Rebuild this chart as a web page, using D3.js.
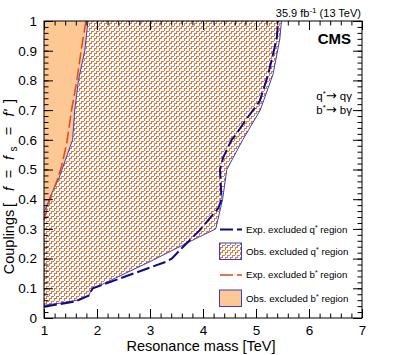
<!DOCTYPE html>
<html>
<head>
<meta charset="utf-8">
<script src="https://cdn.jsdelivr.net/npm/d3@7"></script>
<style>
  body { margin: 0; background: #fff; }
  text { font-family: "Liberation Sans", Arial, sans-serif; }
</style>
</head>
<body>
<div id="my_dataviz"></div>
<script>
// values
const xTicks = [1, 2, 3, 4, 5, 6, 7];
const yTicks = [0, 0.1, 0.2, 0.3, 0.4, 0.5, 0.6, 0.7, 0.8, 0.9, 1];

// observed q* boundary
const obsQMass = [1.0, 1.3, 1.62, 1.84, 1.9, 2.0, 3.0, 3.94, 4.24, 4.37, 4.45, 4.75, 5.08, 5.32, 5.45, 5.48];
const obsQCoup = [0.043, 0.05, 0.06, 0.075, 0.097, 0.105, 0.19, 0.274, 0.30, 0.40, 0.50, 0.60, 0.70, 0.82, 0.94, 1.0];

// expected q*
const expQMass = [1.0, 1.6, 1.84, 1.92, 2.0, 3.31, 3.41, 3.66, 3.94, 4.29, 4.35, 4.32, 4.38, 4.54, 4.63, 4.82, 5.07, 5.23, 5.39, 5.42];
const expQCoup = [0.038, 0.056, 0.075, 0.1, 0.105, 0.19, 0.20, 0.246, 0.296, 0.37, 0.40, 0.50, 0.54, 0.60, 0.62, 0.67, 0.73, 0.82, 0.94, 1.0];

// observed b*
const obsBMass = [1.0, 1.08, 1.145, 1.27, 1.36, 1.54, 1.58, 1.65, 1.77, 1.83];
const obsBCoup = [0.355, 0.39, 0.42, 0.465, 0.51, 0.60, 0.70, 0.80, 0.90, 1.0];

// expected b*
const expBMass = [1.0, 1.11, 1.24, 1.33, 1.43, 1.52, 1.62, 1.70, 1.79];
const expBCoup = [0.33, 0.40, 0.46, 0.51, 0.59, 0.70, 0.80, 0.90, 1.0];

const legendLabels = ["Exp. excluded q* region", "Obs. excluded q* region", "Exp. excluded b* region", "Obs. excluded b* region"];

const W = 407, H = 355;
const margin = {top: 21, right: 45, bottom: 37, left: 44};
const width = W - margin.left - margin.right,
      height = H - margin.top - margin.bottom;

const navy = "#0c0c80", blue = "#3c3cc8", red = "#dc4a14", orange = "#fec894", hatchCol = "#d47a48";

const svg = d3.select("#my_dataviz")
  .append("svg")
  .attr("width", W)
  .attr("height", H);

// zigzag hatch, drawn pixel by pixel in a 5x5 tile
const defs = svg.append("defs");
const pat = defs.append("pattern")
  .attr("id", "hatch")
  .attr("patternUnits", "userSpaceOnUse")
  .attr("width", 5).attr("height", 5);
pat.append("rect").attr("width", 5).attr("height", 5).attr("fill", "#fff");
[[0, 3, 1, 2], [0, 2, 3, 1], [2, 0, 1, 2], [3, 0, 2, 1]].forEach(r => {
  pat.append("rect")
    .attr("x", r[0]).attr("y", r[1]).attr("width", r[2]).attr("height", r[3])
    .attr("fill", hatchCol)
    .attr("shape-rendering", "crispEdges");
});

const g = svg.append("g")
  .attr("transform", `translate(${margin.left},${margin.top})`);

const x = d3.scaleLinear().domain([1, 7]).range([0, width]);
const y = d3.scaleLinear().domain([0, 1]).range([height, 0]);

const zip = (a, b) => a.map((d, i) => [d, b[i]]);
const line = d3.line().x(d => x(d[0])).y(d => y(d[1]));

const obsQ = zip(obsQMass, obsQCoup);
const expQ = zip(expQMass, expQCoup);
const obsB = zip(obsBMass, obsBCoup);
const expB = zip(expBMass, expBCoup);

// q* observed region (hatched)
g.append("path")
  .attr("d", line(obsQ.concat([[1, 1]])) + "Z")
  .attr("fill", "url(#hatch)");

// b* observed region
g.append("path")
  .attr("d", line(obsB.concat([[1, 1]])) + "Z")
  .attr("fill", orange);
g.append("path")
  .attr("d", line(obsB))
  .attr("fill", "none")
  .attr("stroke", blue)
  .attr("stroke-width", 1);

g.append("path")
  .attr("d", line(obsQ))
  .attr("fill", "none")
  .attr("stroke", blue)
  .attr("stroke-width", 1);

g.append("path")
  .attr("d", line(expB))
  .attr("fill", "none")
  .attr("stroke", red)
  .attr("stroke-width", 1.5)
  .attr("stroke-dasharray", "12,4");

g.append("path")
  .attr("d", line(expQ))
  .attr("fill", "none")
  .attr("stroke", navy)
  .attr("stroke-width", 2)
  .attr("stroke-dasharray", "13,4");

// axes, ticks inside on all four sides
const minorX = d3.range(1, 7.001, 0.2);
const minorY = d3.range(0, 1.001, 0.02);

function styleAxis(sel) {
  sel.select(".domain").remove();
  sel.selectAll("line").attr("stroke", "#000");
  sel.selectAll("text").attr("font-size", 13.5).attr("fill", "#000");
}

g.append("g").attr("transform", `translate(0,${height})`)
  .call(d3.axisBottom(x).tickValues(xTicks).tickSize(-9).tickPadding(7).tickFormat(d3.format("d")))
  .call(styleAxis);
g.append("g").attr("transform", `translate(0,${height})`)
  .call(d3.axisBottom(x).tickValues(minorX).tickSize(-4.5).tickFormat(""))
  .call(styleAxis);
g.append("g")
  .call(d3.axisTop(x).tickValues(xTicks).tickSize(-9).tickFormat(""))
  .call(styleAxis);
g.append("g")
  .call(d3.axisTop(x).tickValues(minorX).tickSize(-4.5).tickFormat(""))
  .call(styleAxis);

g.append("g")
  .call(d3.axisLeft(y).tickValues(yTicks).tickSize(-9).tickPadding(7).tickFormat(d => d3.format("")(+d.toFixed(1))))
  .call(styleAxis);
g.append("g")
  .call(d3.axisLeft(y).tickValues(minorY).tickSize(-4.5).tickFormat(""))
  .call(styleAxis);
g.append("g").attr("transform", `translate(${width},0)`)
  .call(d3.axisRight(y).tickValues(yTicks).tickSize(-9).tickFormat(""))
  .call(styleAxis);
g.append("g").attr("transform", `translate(${width},0)`)
  .call(d3.axisRight(y).tickValues(minorY).tickSize(-4.5).tickFormat(""))
  .call(styleAxis);

g.append("rect")
  .attr("width", width).attr("height", height)
  .attr("fill", "none").attr("stroke", "#000").attr("stroke-width", 1);

// axis titles
svg.append("text")
  .attr("x", 201).attr("y", 351)
  .attr("text-anchor", "middle")
  .attr("font-size", 14.5)
  .text("Resonance mass [TeV]");

// y title, pieces spaced like the TLatex original
const ytParts = [
  {t: "Couplings", c: 242, it: false, fs: 14.5, dy: 0},
  {t: "[", c: 205, it: false, fs: 14.5, dy: 0},
  {t: "f", c: 189, it: true, fs: 14.5, dy: 0},
  {t: "=", c: 174, it: false, fs: 14.5, dy: 0},
  {t: "f", c: 158, it: true, fs: 14.5, dy: 0},
  {t: "s", c: 149, it: false, fs: 10, dy: 3},
  {t: "=", c: 131, it: false, fs: 14.5, dy: 0},
  {t: "f'", c: 113, it: true, fs: 14.5, dy: 0},
  {t: "]", c: 101, it: false, fs: 14.5, dy: 0}
];
ytParts.forEach(p => {
  svg.append("text")
    .attr("transform", `translate(${14 + p.dy},${p.c}) rotate(-90)`)
    .attr("text-anchor", "middle")
    .attr("font-size", p.fs)
    .attr("font-style", p.it ? "italic" : null)
    .text(p.t);
});

// header
const lumi = svg.append("text")
  .attr("x", 361).attr("y", 17)
  .attr("text-anchor", "end")
  .attr("font-size", 11);
lumi.append("tspan").text("35.9 fb");
lumi.append("tspan").attr("font-size", 8).attr("dy", -4).text("-1");
lumi.append("tspan").attr("dy", 4).text(" (13 TeV)");

svg.append("text")
  .attr("x", 351).attr("y", 44)
  .attr("text-anchor", "end")
  .attr("font-size", 15)
  .attr("font-weight", "bold")
  .text("CMS");

[["q", "q\u03b3", 100], ["b", "b\u03b3", 114]].forEach(([a, b, yy]) => {
  const t = svg.append("text")
    .attr("x", 352).attr("y", yy)
    .attr("text-anchor", "end")
    .attr("font-size", 11.5);
  t.append("tspan").text(a);
  t.append("tspan").attr("font-size", 8).attr("dy", -4).text("*");
  t.append("tspan").attr("dy", 4).attr("font-family", "DejaVu Sans").attr("font-size", 13).text("\u2192");
  t.append("tspan").text(" " + b);
});

// legend
const legY = [229.5, 251.5, 275, 298.5];
const leg = svg.append("g");
legendLabels.forEach((lab, i) => {
  const yy = legY[i];
  if (i === 0 || i === 2) {
    leg.append("line")
      .attr("x1", 220).attr("x2", 242).attr("y1", yy).attr("y2", yy)
      .attr("stroke", i === 0 ? navy : red)
      .attr("stroke-width", i === 0 ? 2 : 1.5)
      .attr("stroke-dasharray", "13,4");
  } else {
    leg.append("rect")
      .attr("x", 219.5).attr("y", yy - 8.5).attr("width", 22).attr("height", 16.5)
      .attr("fill", i === 1 ? "url(#hatch)" : orange)
      .attr("stroke", blue).attr("stroke-width", 1);
  }
  const parts = lab.split("*");
  const t = leg.append("text")
    .attr("x", 246).attr("y", yy + 3)
    .attr("font-size", 9.7);
  t.append("tspan").text(parts[0]);
  t.append("tspan").attr("font-size", 7).attr("dy", -3).text("*");
  t.append("tspan").attr("dy", 3).text(parts[1]);
});
</script>
</body>
</html>
